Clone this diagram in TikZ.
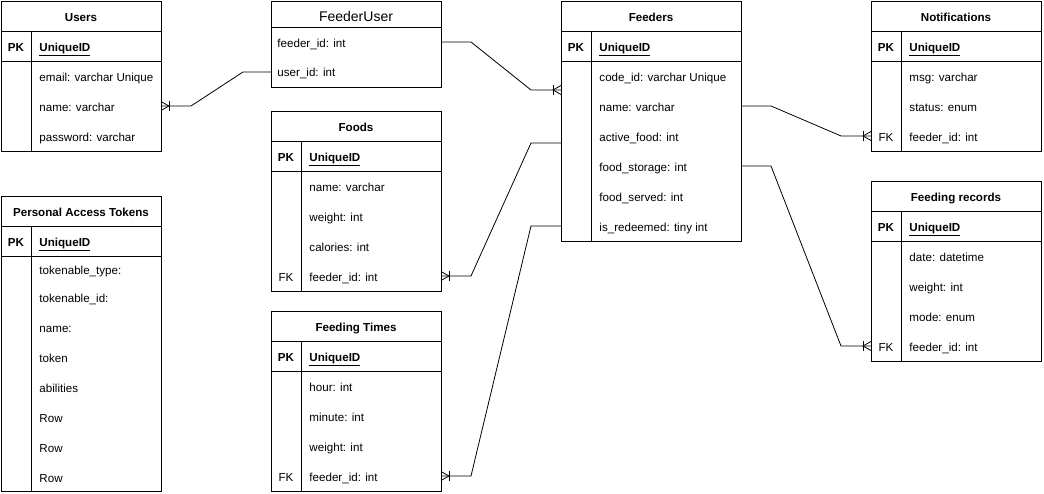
\documentclass[tikz,border=0pt]{standalone}
\usepackage{fontspec}
\setmainfont{Liberation Sans}
\usetikzlibrary{calc}
\newcommand\fs{\fontsize{11.6}{13}\selectfont}
\newcommand\mktable[6]{%
  \node[box, minimum width=#4pt, minimum height=#5pt] (#1) at (#2,#3) {};
  \node[ttl] (#1-t) at ({#2+#4/2},{#3+15}) {#6};
  \draw ({#2},{#3+30}) -- ({#2+#4},{#3+30});
  \draw ({#2},{#3+60}) -- ({#2+#4},{#3+60});
  \draw ({#2+30},{#3+30}) -- ({#2+30},{#3+#5});
  \node[keyb] (#1-pk) at ({#2+15},{#3+45}) {PK};
  \node[fld, font=\fs\bfseries] (#1-id) at ({#2+38},{#3+45}) {\underline{UniqueID}};
}
\begin{document}
\begin{tikzpicture}[x=1pt,y=-1pt, line width=0.9pt,
  box/.style={draw, anchor=north west, inner sep=0pt, outer sep=0pt},
  txt/.style={inner sep=0pt, text height=8.4pt, text depth=2.6pt, yshift=-2.6pt},
  ttl/.style={txt, font=\fs\bfseries},
  fld/.style={txt, anchor=west, font=\fs},
  keyb/.style={txt, font=\fs\bfseries},
  keyn/.style={txt, font=\fs},
  conn/.style={line width=0.8pt},
  crow/.pic={\draw[line width=0.8pt] (0,-4.5) -- (8,0) -- (0,4.5); \draw[line width=0.8pt] (8,-5) -- (8,5);}
]
\useasboundingbox (0,0) rectangle (1044,494);

% Users
\mktable{users}{1}{1}{160}{150}{Users}
\node[fld] (users-email) at (39,76) {email: varchar Unique};
\node[fld] (users-name) at (39,106) {name: varchar};
\node[fld] (users-pw) at (39,136) {password: varchar};

% Personal Access Tokens
\mktable{pat}{1}{196}{160}{295}{Personal Access Tokens}
\node[fld] (pat-r1) at (39,269) {tokenable\_type:};
\node[fld] (pat-r2) at (39,297) {tokenable\_id:};
\node[fld] (pat-r3) at (39,327) {name:};
\node[fld] (pat-r4) at (39,357) {token};
\node[fld] (pat-r5) at (39,387) {abilities};
\node[fld] (pat-r6) at (39,417) {Row};
\node[fld] (pat-r7) at (39,447) {Row};
\node[fld] (pat-r8) at (39,477) {Row};

% FeederUser
\node[box, minimum width=170pt, minimum height=86pt] (fu) at (271,1) {};
\node[inner sep=0pt, text height=10pt, text depth=3pt, font=\fontsize{14}{16}\selectfont] (fu-t) at (356,18.5) {FeederUser};
\draw (271,27) -- (441,27);
\node[fld] (fu-feeder) at (277,42) {feeder\_id: int};
\node[fld] (fu-user) at (277,71) {user\_id: int};

% Foods
\mktable{foods}{271}{111}{170}{180}{Foods}
\node[fld] (foods-name) at (309,186) {name: varchar};
\node[fld] (foods-w) at (309,216) {weight: int};
\node[fld] (foods-c) at (309,246) {calories: int};
\node[keyn] (foods-fk) at (286,276) {FK};
\node[fld] (foods-f) at (309,276) {feeder\_id: int};

% Feeding Times
\mktable{ft}{271}{311}{170}{180}{Feeding Times}
\node[fld] (ft-h) at (309,386) {hour: int};
\node[fld] (ft-m) at (309,416) {minute: int};
\node[fld] (ft-w) at (309,446) {weight: int};
\node[keyn] (ft-fk) at (286,476) {FK};
\node[fld] (ft-f) at (309,476) {feeder\_id: int};

% Feeders
\mktable{fd}{561}{1}{180}{240}{Feeders}
\node[fld] (fd-code) at (599,76) {code\_id: varchar Unique};
\node[fld] (fd-name) at (599,106) {name: varchar};
\node[fld] (fd-af) at (599,136) {active\_food: int};
\node[fld] (fd-fs) at (599,166) {food\_storage: int};
\node[fld] (fd-fsv) at (599,196) {food\_served: int};
\node[fld] (fd-red) at (599,226) {is\_redeemed: tiny int};

% Notifications
\mktable{no}{871}{1}{170}{150}{Notifications}
\node[fld] (no-msg) at (909,76) {msg: varchar};
\node[fld] (no-st) at (909,106) {status: enum};
\node[keyn] (no-fk) at (886,136) {FK};
\node[fld] (no-f) at (909,136) {feeder\_id: int};

% Feeding records
\mktable{fr}{871}{181}{170}{180}{Feeding records}
\node[fld] (fr-d) at (909,256) {date: datetime};
\node[fld] (fr-w) at (909,286) {weight: int};
\node[fld] (fr-m) at (909,316) {mode: enum};
\node[keyn] (fr-fk) at (886,346) {FK};
\node[fld] (fr-f) at (909,346) {feeder\_id: int};

% connector end points
\coordinate (c1a) at (161,106);
\coordinate (c1b) at (271,72);
\coordinate (c2a) at (441,42);
\coordinate (c2b) at (561,90);
\coordinate (c3a) at (441,276);
\coordinate (c3b) at (561,143);
\coordinate (c4a) at (441,476);
\coordinate (c4b) at (561,226);
\coordinate (c5a) at (741,106);
\coordinate (c5b) at (871,136);
\coordinate (c6a) at (741,166);
\coordinate (c6b) at (871,346);

\draw[conn] (c1a) -- ++(30,0) -- ($(c1b)+(-28,0)$) -- (c1b);
\draw[conn] (c2a) -- ++(30,0) -- ($(c2b)+(-30,0)$) -- (c2b);
\draw[conn] (c3a) -- ++(30,0) -- ($(c3b)+(-30,0)$) -- (c3b);
\draw[conn] (c4a) -- ++(30,0) -- ($(c4b)+(-30,0)$) -- (c4b);
\draw[conn] (c5a) -- ++(30,0) -- ($(c5b)+(-30,0)$) -- (c5b);
\draw[conn] (c6a) -- ++(30,0) -- ($(c6b)+(-30,0)$) -- (c6b);

\pic at (c1a) {crow};
\pic[rotate=180] at (c2b) {crow};
\pic at (c3a) {crow};
\pic at (c4a) {crow};
\pic[rotate=180] at (c5b) {crow};
\pic[rotate=180] at (c6b) {crow};
\end{tikzpicture}
\end{document}
